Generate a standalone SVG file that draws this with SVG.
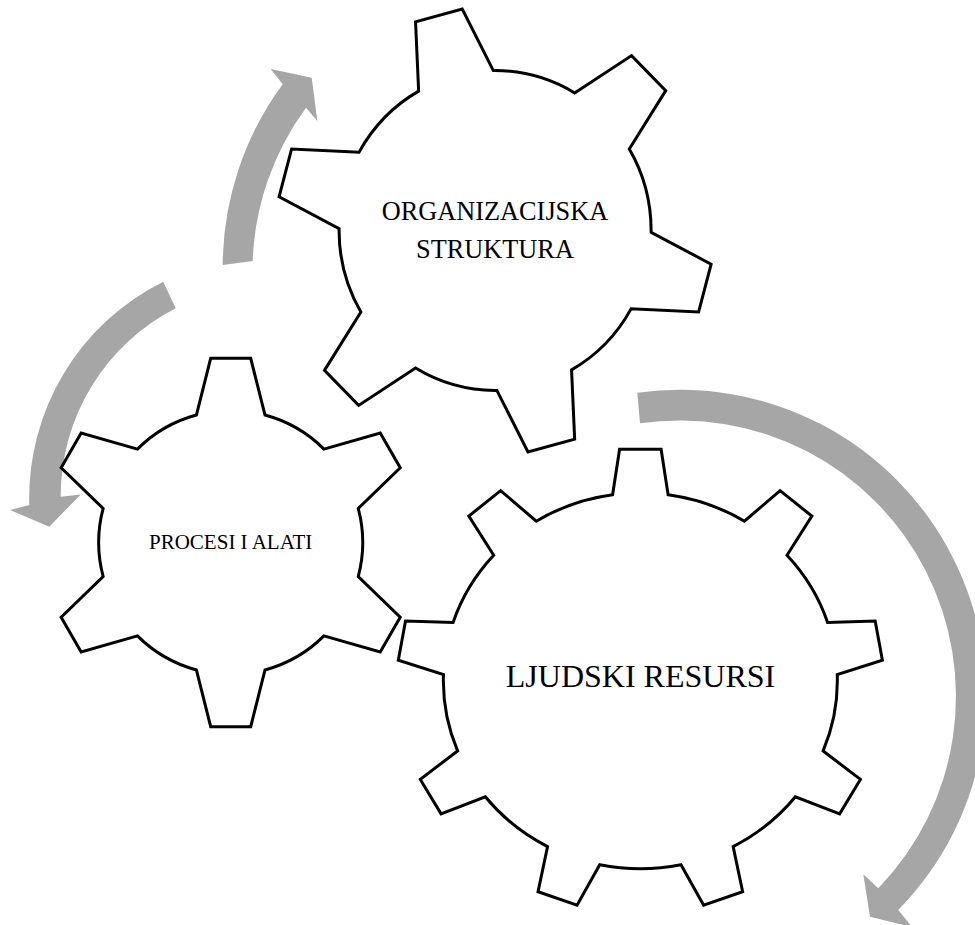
<svg xmlns="http://www.w3.org/2000/svg" width="975" height="925" viewBox="0 0 975 925">
<style>
.gear{fill:#ffffff;stroke:#000000;stroke-width:3;stroke-linejoin:miter}
.arrow{fill:#A6A6A6;stroke:none}
.lbl{font-family:"Liberation Serif","Times New Roman",serif;fill:#000000;text-anchor:middle}
</style>
<rect x="0" y="0" width="975" height="925" fill="#ffffff"/>
<g id="connectors">
<path class="arrow" d="M 222.7 265 A 307 307 0 0 1 282.7 84.3 L 270.7 69 L 311.7 77.7 L 317.3 121 L 306 107.7 A 276 276 0 0 0 252.7 261 Z"/>
<path class="arrow" d="M 163.3 281.7 A 241.4 241.4 0 0 0 29.3 505 L 10 510 L 49.3 526.7 L 80.7 494.5 L 60.7 496.7 A 211 211 0 0 1 175.7 308.3 Z"/>
<path class="arrow" d="M 637.3 392.7 A 306 306 0 0 1 898.3 910 L 912 927 L 870 916.7 L 863.3 874.3 L 878.3 888.3 A 276 276 0 0 0 640 423.3 Z"/>
</g>
<g id="gear-organizacijska">
<path class="gear" d="M 418.64 91.13 L 415.55 21.91 L 462.24 9.09 L 493.33 70.61 A 156 159.9 0 0 1 574.63 92.94 L 631.57 55.59 L 665.74 90.62 L 629.31 148.98 A 156 159.9 0 0 1 651.09 232.31 L 711.12 264.18 L 698.6 312.04 L 631.07 308.87 A 156 159.9 0 0 1 571.56 369.87 L 574.65 439.09 L 527.96 451.91 L 496.87 390.39 A 156 159.9 0 0 1 415.57 368.06 L 358.63 405.41 L 324.46 370.38 L 360.89 312.02 A 156 159.9 0 0 1 339.11 228.69 L 279.08 196.82 L 291.6 148.96 L 359.13 152.13 A 156 159.9 0 0 1 418.64 91.13 Z"/>
<text class="lbl" x="495" y="220" font-size="26.3">ORGANIZACIJSKA</text>
<text class="lbl" x="495" y="258.3" font-size="26.3">STRUKTURA</text>
</g>
<g id="gear-procesi">
<path class="gear" d="M 196.4 415.03 L 210.69 358.28 L 250.71 358.28 L 265 415.03 A 132 132 0 0 1 323.94 449.07 L 380.23 433.06 L 400.24 467.72 L 358.24 508.47 A 132 132 0 0 1 358.24 576.53 L 400.24 617.28 L 380.23 651.94 L 323.94 635.93 A 132 132 0 0 1 265 669.97 L 250.71 726.72 L 210.69 726.72 L 196.4 669.97 A 132 132 0 0 1 137.46 635.93 L 81.17 651.94 L 61.16 617.28 L 103.16 576.53 A 132 132 0 0 1 103.16 508.47 L 61.16 467.72 L 81.17 433.06 L 137.46 449.07 A 132 132 0 0 1 196.4 415.03 Z"/>
<text class="lbl" x="230.7" y="549.3" font-size="21">PROCESI I ALATI</text>
</g>
<g id="gear-ljudski">
<path class="gear" d="M 612.59 494.68 L 619.59 449.15 L 661.11 449.15 L 668.11 494.68 A 197 188 0 0 1 744.45 521.19 L 780.08 490.58 L 811.88 516.11 L 786.98 555.25 A 197 188 0 0 1 827.6 622.39 L 875.18 621.02 L 882.39 660.13 L 837.24 674.57 A 197 188 0 0 1 823.13 750.92 L 860.4 779.43 L 839.65 813.82 L 795.38 796.8 A 197 188 0 0 1 733.14 846.64 L 742.66 891.69 L 703.65 905.27 L 680.97 864.76 A 197 188 0 0 1 599.73 864.76 L 577.05 905.27 L 538.04 891.69 L 547.56 846.64 A 197 188 0 0 1 485.32 796.8 L 441.05 813.82 L 420.3 779.43 L 457.57 750.92 A 197 188 0 0 1 443.46 674.57 L 398.31 660.13 L 405.52 621.02 L 453.1 622.39 A 197 188 0 0 1 493.72 555.25 L 468.82 516.11 L 500.62 490.58 L 536.25 521.19 A 197 188 0 0 1 612.59 494.68 Z"/>
<text class="lbl" x="640.5" y="686.7" font-size="32">LJUDSKI RESURSI</text>
</g>
</svg>
